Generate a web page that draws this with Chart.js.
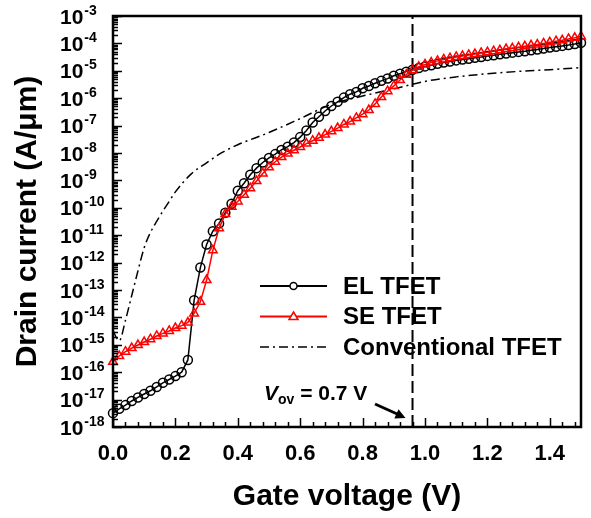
<!DOCTYPE html>
<html>
<head>
<meta charset="utf-8">
<script src="https://cdn.jsdelivr.net/npm/chart.js@4.4.0/dist/chart.umd.min.js"></script>
<style>
  html, body { margin: 0; padding: 0; background: #fff; }
  #wrap { width: 591px; height: 518px; }
</style>
</head>
<body>
<div id="wrap"><canvas id="myChart" width="591" height="518"></canvas></div>
<script>
// gate voltage grid for the two marked curves (V)
var gateV = [0.00,0.02,0.04,0.06,0.08,0.10,0.12,0.14,0.16,0.18,0.20,0.22,0.24,0.26,0.28,0.30,0.32,0.34,0.36,0.38,
             0.40,0.42,0.44,0.46,0.48,0.50,0.52,0.54,0.56,0.58,0.60,0.62,0.64,0.66,0.68,0.70,0.72,0.74,0.76,0.78,
             0.80,0.82,0.84,0.86,0.88,0.90,0.92,0.94,0.96,0.98,1.00,1.02,1.04,1.06,1.08,1.10,1.12,1.14,1.16,1.18,
             1.20,1.22,1.24,1.26,1.28,1.30,1.32,1.34,1.36,1.38,1.40,1.42,1.44,1.46,1.48,1.50]

// EL TFET drain current (A/um)
var elI = [3.2e-18,4.6e-18,6.3e-18,8.9e-18,1.2e-17,1.6e-17,2.1e-17,2.9e-17,4.1e-17,5.4e-17,7.2e-17,1.0e-16,2.8e-16,
           4.2e-14,6.6e-13,4.6e-12,1.4e-11,2.7e-11,6.6e-11,1.4e-10,
           4.2e-10,7.9e-10,1.6e-9,2.8e-9,4.5e-9,6.6e-9,9.1e-9,1.3e-8,1.7e-8,2.4e-8,3.8e-8,
           6.6e-8,1.3e-7,2.1e-7,3.4e-7,5.2e-7,7.4e-7,1.05e-6,1.4e-6,1.7e-6,2.3e-6,
           2.8e-6,3.5e-6,4.3e-6,5.2e-6,6.6e-6,7.8e-6,9.3e-6,1.1e-5,1.26e-5,1.45e-5,
           1.6e-5,1.8e-5,2.0e-5,2.2e-5,2.4e-5,2.6e-5,2.75e-5,3.0e-5,3.2e-5,3.5e-5,
           3.7e-5,4.0e-5,4.3e-5,4.6e-5,4.9e-5,5.2e-5,5.6e-5,6.0e-5,6.5e-5,7.1e-5,
           7.6e-5,8.1e-5,8.7e-5,9.5e-5,1.05e-4]

// SE TFET drain current (A/um)
var seI = [2.4e-16,3.9e-16,5.6e-16,7.6e-16,9.8e-16,1.26e-15,1.6e-15,2.1e-15,2.6e-15,3.2e-15,4.1e-15,5.0e-15,6.5e-15,
           1.4e-14,3.7e-14,2.3e-13,2.8e-12,1.8e-11,5.9e-11,1.1e-10,
           1.7e-10,3.0e-10,5.2e-10,9.5e-10,1.8e-9,3.0e-9,4.8e-9,7.1e-9,9.5e-9,1.26e-8,1.66e-8,
           2.2e-8,2.8e-8,3.6e-8,4.7e-8,6.2e-8,8.1e-8,1.1e-7,1.4e-7,1.9e-7,2.6e-7,
           3.7e-7,6.2e-7,1.1e-6,1.8e-6,2.8e-6,4.6e-6,7.2e-6,1.05e-5,1.4e-5,1.7e-5,
           2.0e-5,2.3e-5,2.6e-5,2.9e-5,3.2e-5,3.5e-5,3.8e-5,4.1e-5,4.5e-5,4.8e-5,
           5.2e-5,5.6e-5,6.2e-5,6.6e-5,7.2e-5,7.8e-5,8.5e-5,9.1e-5,1.0e-4,1.1e-4,
           1.2e-4,1.3e-4,1.45e-4,1.6e-4,1.8e-4]

// conventional TFET (line only)
var convV = [0.00,0.02,0.04,0.06,0.08,0.10,0.12,0.14,0.16,0.18,0.20,0.25,0.30,0.35,0.40,0.50,0.60,0.70,0.80,0.90,1.00,1.10,1.20,1.30,1.40,1.50]
var convI = [3.2e-15,1.4e-15,7.9e-15,6.3e-14,5.0e-13,3.5e-12,1.26e-11,3.2e-11,7.6e-11,1.7e-10,3.8e-10,1.7e-9,4.4e-9,1.05e-8,2.0e-8,
             5.6e-8,1.8e-7,6.0e-7,1.2e-6,2.2e-6,4.1e-6,6.0e-6,7.8e-6,9.5e-6,1.1e-5,1.3e-5]

// overdrive marker line
var ovLineV = [0.96, 0.96]
var ovLineI = [1e-18, 1e-3]

var xTicks = [0.0,0.2,0.4,0.6,0.8,1.0,1.2,1.4]
var yTicks = [1e-18,1e-17,1e-16,1e-15,1e-14,1e-13,1e-12,1e-11,1e-10,1e-9,1e-8,1e-7,1e-6,1e-5,1e-4,1e-3]
var seriesNames = ["EL TFET", "SE TFET", "Conventional TFET"]

function pts(xs, ys){
  var out = []
  for (var i = 0; i < xs.length; i++) out.push({x: xs[i], y: ys[i]})
  return out
}

var FONT = "Arial, 'Liberation Sans', Helvetica, sans-serif"
Chart.defaults.font.family = FONT
Chart.defaults.color = "#000"

var DASHDOT = [9, 4, 2, 4]

var extras = {
  id: "extras",
  afterDraw: function(chart){
    var ctx = chart.ctx
    var a = chart.chartArea
    var xs = chart.scales.x, ys = chart.scales.y
    ctx.save()
    ctx.strokeStyle = "#000"
    ctx.fillStyle = "#000"

    // inward ticks
    ctx.lineWidth = 1.5
    ctx.beginPath()
    for (var k = 0; k <= 37; k++) {
      var v = k * 0.04
      var px = Math.round(xs.getPixelForValue(v)) + 0.5
      var len = (k % 5 === 0) ? 9 : 5
      ctx.moveTo(px, a.bottom); ctx.lineTo(px, a.bottom - len)
    }
    for (var d = 0; d < yTicks.length; d++) {
      var py = Math.round(ys.getPixelForValue(yTicks[d])) + 0.5
      ctx.moveTo(a.left, py); ctx.lineTo(a.left + 9, py)
      if (d < yTicks.length - 1) {
        for (var m = 2; m <= 9; m++) {
          var pm = Math.round(ys.getPixelForValue(yTicks[d] * m)) + 0.5
          ctx.moveTo(a.left, pm); ctx.lineTo(a.left + 5, pm)
        }
      }
    }
    ctx.stroke()

    // frame
    ctx.lineWidth = 2.5
    ctx.strokeRect(a.left, a.top, a.right - a.left, a.bottom - a.top)

    // y tick labels with superscript exponents
    ctx.textAlign = "left"
    ctx.textBaseline = "alphabetic"
    for (var t = 0; t < yTicks.length; t++) {
      var y = ys.getPixelForValue(yTicks[t])
      var e = Math.round(Math.log10(yTicks[t]))
      ctx.font = "bold 21px " + FONT
      ctx.fillText("10", 60, y + 7.5)
      var w = ctx.measureText("10").width
      ctx.font = "bold 14px " + FONT
      ctx.fillText(String(e), 60 + w + 1, y - 1.5)
    }

    // legend
    var lx0 = 260, lx1 = 327, tx = 343
    var rows = [286, 316.5, 347]
    ctx.font = "bold 24px " + FONT
    ctx.textBaseline = "middle"
    for (var r = 0; r < 3; r++) {
      var ly = rows[r]
      ctx.beginPath()
      ctx.lineWidth = r === 2 ? 1.5 : 2
      ctx.strokeStyle = r === 1 ? "#ff0000" : "#000"
      ctx.setLineDash(r === 2 ? DASHDOT : [])
      ctx.moveTo(lx0, ly); ctx.lineTo(lx1, ly)
      ctx.stroke()
      ctx.setLineDash([])
      var cx = (lx0 + lx1) / 2
      ctx.lineWidth = 1.5
      if (r === 0) {
        ctx.beginPath(); ctx.fillStyle = "#fff"
        ctx.arc(cx, ly, 3.5, 0, Math.PI * 2); ctx.fill(); ctx.stroke()
      } else if (r === 1) {
        ctx.beginPath(); ctx.fillStyle = "#fff"
        ctx.moveTo(cx, ly - 4.5); ctx.lineTo(cx + 4.5, ly + 3); ctx.lineTo(cx - 4.5, ly + 3); ctx.closePath()
        ctx.fill(); ctx.stroke()
      }
      ctx.fillStyle = "#000"
      ctx.fillText(seriesNames[r], tx, ly + 1)
    }

    // V_ov annotation
    ctx.textBaseline = "alphabetic"
    ctx.font = "italic bold 21px " + FONT
    ctx.fillText("V", 264, 400)
    var vw = ctx.measureText("V").width
    ctx.font = "bold 14px " + FONT
    ctx.fillText("ov", 264 + vw, 404)
    var ow = ctx.measureText("ov").width
    ctx.font = "bold 21px " + FONT
    ctx.fillText(" = 0.7 V", 264 + vw + ow, 400)

    // arrow to the dashed line
    var ax = xs.getPixelForValue(ovLineV[0]) - 7, ay = a.bottom - 9
    ctx.strokeStyle = "#000"
    ctx.lineWidth = 3
    ctx.beginPath(); ctx.moveTo(375, 404); ctx.lineTo(ax - 5, ay - 2.5); ctx.stroke()
    var ang = Math.atan2(ay - 404, ax - 375)
    ctx.beginPath()
    ctx.moveTo(ax, ay)
    ctx.lineTo(ax - 10 * Math.cos(ang) + 5 * Math.sin(ang), ay - 10 * Math.sin(ang) - 5 * Math.cos(ang))
    ctx.lineTo(ax - 10 * Math.cos(ang) - 5 * Math.sin(ang), ay - 10 * Math.sin(ang) + 5 * Math.cos(ang))
    ctx.closePath(); ctx.fill()

    ctx.restore()
  }
}

var chart = new Chart(document.getElementById("myChart").getContext("2d"), {
  type: "line",
  data: {
    datasets: [
      {
        label: seriesNames[1],
        data: pts(gateV, seI),
        borderColor: "#ff0000",
        borderWidth: 1.5,
        pointStyle: "triangle",
        pointRadius: 5,
        pointBorderWidth: 1.5,
        pointBorderColor: "#ff0000",
        pointBackgroundColor: "rgba(255,255,255,0)",
        clip: false,
        order: 0
      },
      {
        label: seriesNames[0],
        data: pts(gateV, elI),
        borderColor: "#000",
        borderWidth: 1.5,
        pointStyle: "circle",
        pointRadius: 4.5,
        pointBorderWidth: 1.5,
        pointBorderColor: "#000",
        pointBackgroundColor: "rgba(255,255,255,0)",
        clip: false,
        order: 1
      },
      {
        label: seriesNames[2],
        data: pts(convV, convI),
        borderColor: "#000",
        borderWidth: 1.5,
        borderDash: DASHDOT,
        pointRadius: 0,
        cubicInterpolationMode: "monotone",
        order: 2
      },
      {
        label: "Vov",
        data: pts(ovLineV, ovLineI),
        borderColor: "#000",
        borderWidth: 2,
        borderDash: [12, 5],
        pointRadius: 0,
        order: 3
      }
    ]
  },
  options: {
    responsive: false,
    animation: false,
    devicePixelRatio: 1,
    layout: { padding: { top: 16, right: 10, left: 0, bottom: 0 } },
    plugins: { legend: { display: false }, tooltip: { enabled: false } },
    scales: {
      x: {
        type: "linear",
        min: 0,
        max: 1.5,
        grid: { display: false, drawTicks: false },
        border: { display: false },
        afterBuildTicks: function(s){ s.ticks = xTicks.map(function(v){ return {value: v} }) },
        afterFit: function(s){ s.height = 91 },
        ticks: {
          padding: 14,
          maxRotation: 0,
          autoSkip: false,
          font: { size: 22, weight: "bold" },
          color: "#000",
          callback: function(v){ return Number(v).toFixed(1) }
        },
        title: {
          display: true,
          text: "Gate voltage (V)",
          font: { size: 30, weight: "bold" },
          color: "#000",
          padding: { top: 0, bottom: 3 }
        }
      },
      y: {
        type: "logarithmic",
        min: 1e-18,
        max: 1e-3,
        grid: { display: false, drawTicks: false },
        border: { display: false },
        afterBuildTicks: function(s){ s.ticks = yTicks.map(function(v){ return {value: v} }) },
        afterFit: function(s){ s.width = 113 },
        ticks: { display: false },
        title: {
          display: true,
          text: "Drain current (A/\u03bcm)",
          font: { size: 30, weight: "bold" },
          color: "#000",
          padding: { top: 10, bottom: 0 }
        }
      }
    }
  },
  plugins: [extras]
})
</script>
</body>
</html>
